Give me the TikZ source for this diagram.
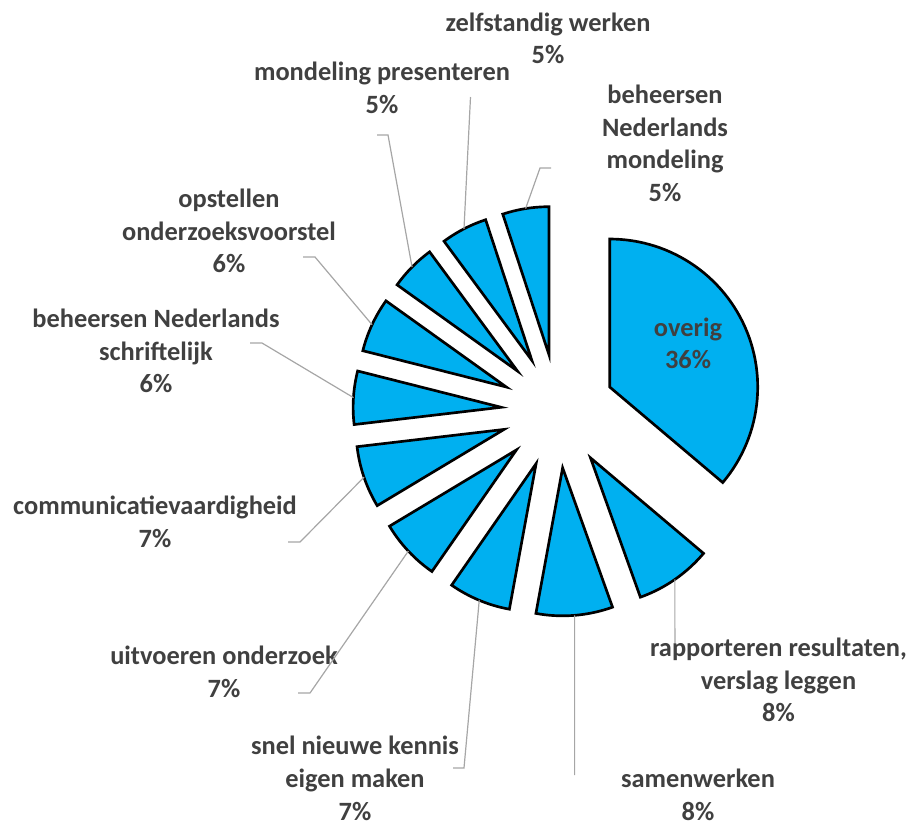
\documentclass[tikz,border=0pt]{standalone}
\usepackage{fontspec}
\setmainfont{Carlito}
\definecolor{sliceblue}{HTML}{00B0F0}
\definecolor{labelgray}{HTML}{404040}
\definecolor{leadergray}{HTML}{A6A6A6}
\begin{document}
\begin{tikzpicture}[x=0.75pt,y=-0.75pt,
  slice/.style={fill=sliceblue,draw=black,line width=2pt,line join=miter},
  lbl/.style={text=labelgray,font=\fontsize{19.8}{24.4}\selectfont\bfseries,align=center,inner sep=0pt},
  leader/.style={draw=leadergray,line width=0.9pt}]
\useasboundingbox (0,0) rectangle (912,826);

% exploded pie: start angle / end angle (clockwise from 12 o'clock) / name
\foreach \a/\b/\n in {0/130.2/ov, 130.2/160.3/rap, 160.3/190.4/sam, 190.4/214.8/snel,
    214.8/239.0/uit, 239.0/263.3/com, 263.3/284.2/sch, 284.2/305.6/op,
    305.6/323.6/mp, 323.6/341.8/zw, 341.8/360/bnm} {
  \pgfmathsetmacro\m{(\a+\b)/2}
  \pgfmathsetmacro\ax{558+57*sin(\m)}
  \pgfmathsetmacro\ay{411-57*cos(\m)}
  \draw[slice] (\ax,\ay) -- plot[domain=\a:\b,samples=60]
    ({\ax+148*sin(\x)},{\ay-148*cos(\x)}) -- cycle;
  \coordinate (e-\n) at ({\ax+148*sin(\m)},{\ay-148*cos(\m)});
}

% labels
\node[lbl] (l-ov)   at (688,346)   {\strut overig\\\strut 36\%};
\node[lbl] (l-zw)   at (548,41)    {\strut zelfstandig werken\\\strut 5\%};
\node[lbl] (l-mp)   at (382,90.5)  {\strut mondeling presenteren\\\strut 5\%};
\node[lbl] (l-bnm)  at (665,146)   {\strut beheersen\\\strut Nederlands\\\strut mondeling\\\strut 5\%};
\node[lbl] (l-op)   at (229,233.5) {\strut opstellen\\\strut onderzoeksvoorstel\\\strut 6\%};
\node[lbl] (l-sch)  at (156,353.5) {\strut beheersen Nederlands\\\strut schriftelijk\\\strut 6\%};
\node[lbl] (l-com)  at (155,524.3) {\strut communicatievaardigheid\\\strut 7\%};
\node[lbl] (l-uit)  at (224,674.5) {\strut uitvoeren onderzoek\\\strut 7\%};
\node[lbl] (l-snel) at (355,781)   {\strut snel nieuwe kennis\\\strut eigen maken\\\strut 7\%};
\node[lbl] (l-sam)  at (698,797.5) {\strut samenwerken\\\strut 8\%};
\node[lbl] (l-rap)  at (778.5,682.8) {\strut rapporteren resultaten,\\\strut verslag leggen\\\strut 8\%};

% leader line ends and bends
\coordinate (t-bnm)  at (551,168);  \coordinate (k-bnm)  at (540,168);
\coordinate (t-zw)   at (470.5,97);
\coordinate (t-mp)   at (377,135);  \coordinate (k-mp)   at (388,135);
\coordinate (t-op)   at (303,257);  \coordinate (k-op)   at (315,257);
\coordinate (t-sch)  at (250,343);  \coordinate (k-sch)  at (262,343);
\coordinate (t-com)  at (288,542);  \coordinate (k-com)  at (300,542);
\coordinate (t-uit)  at (298,693);  \coordinate (k-uit)  at (310,693);
\coordinate (t-snel) at (453,768);  \coordinate (k-snel) at (464,768);
\coordinate (t-sam)  at (574.6,775);
\coordinate (t-rap)  at (674.9,643);

\draw[leader] (t-bnm) -- (k-bnm) -- (e-bnm);
\draw[leader] (t-zw) -- (e-zw);
\draw[leader] (t-mp) -- (k-mp) -- (e-mp);
\draw[leader] (t-op) -- (k-op) -- (e-op);
\draw[leader] (t-sch) -- (k-sch) -- (e-sch);
\draw[leader] (t-com) -- (k-com) -- (e-com);
\draw[leader] (t-uit) -- (k-uit) -- (e-uit);
\draw[leader] (t-snel) -- (k-snel) -- (e-snel);
\draw[leader] (t-sam) -- (e-sam);
\draw[leader] (t-rap) -- (e-rap);
\end{tikzpicture}
\end{document}
